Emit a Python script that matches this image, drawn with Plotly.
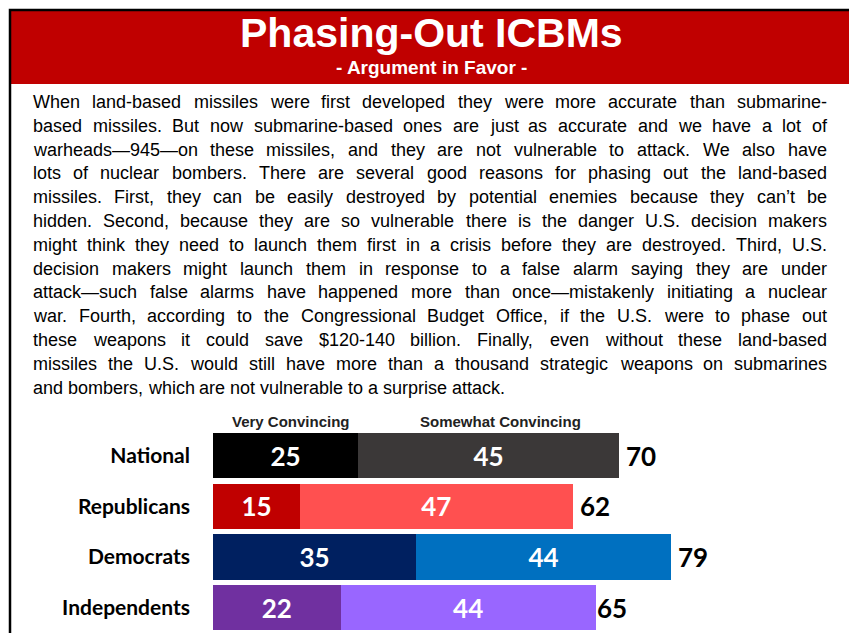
import plotly.graph_objects as go

# ---- data ----
groups = ["National", "Republicans", "Democrats", "Independents"]
very = [25, 15, 35, 22]
somewhat = [45, 47, 44, 44]
totals = [70, 62, 79, 65]
very_colors = ["#000000", "#c00000", "#002060", "#7030a0"]
some_colors = ["#3b3838", "#ff5050", "#0070c0", "#9966ff"]
series_names = ["Very Convincing", "Somewhat Convincing"]

title = "Phasing-Out ICBMs"
subtitle = "- Argument in Favor -"
body_lines = [
    "When land-based missiles were first developed they were more accurate than submarine-",
    "based missiles. But now submarine-based ones are just as accurate and we have a lot of",
    "warheads\u2014945\u2014on these missiles, and they are not vulnerable to attack. We also have",
    "lots of nuclear bombers. There are several good reasons for phasing out the land-based",
    "missiles. First, they can be easily destroyed by potential enemies because they can\u2019t be",
    "hidden. Second, because they are so vulnerable there is the danger U.S. decision makers",
    "might think they need to launch them first in a crisis before they are destroyed. Third, U.S.",
    "decision makers might launch them in response to a false alarm saying they are under",
    "attack\u2014such false alarms have happened more than once\u2014mistakenly initiating a nuclear",
    "war. Fourth, according to the Congressional Budget Office, if the U.S. were to phase out",
    "these weapons it could save $120-140 billion. Finally, even without these land-based",
    "missiles the U.S. would still have more than a thousand strategic weapons on submarines",
    "and bombers, which are not vulnerable to a surprise attack.",
]

W, H = 857, 633
OFF = 8  # page body margin offset of the rendered figure
BAR_FONT = "Lato, 'Liberation Sans', sans-serif"
ARIAL = "'Liberation Sans', Arial, sans-serif"


def px(x):
    return (x - OFF) / W


def py(y):
    return 1 - (y - OFF) / H


fig = go.Figure()
for vals, cols, name in [(very, very_colors, series_names[0]),
                         (somewhat, some_colors, series_names[1])]:
    fig.add_trace(go.Bar(
        y=groups, x=vals, orientation="h", name=name,
        marker=dict(color=cols, line=dict(width=0)),
        text=vals, textposition="inside", insidetextanchor="middle",
        textangle=0, constraintext="none",
        textfont=dict(family=BAR_FONT, size=26, color="white", weight="bold"),
        showlegend=False,
    ))

# totals
for g, t in zip(groups, totals):
    fig.add_annotation(x=t, y=g, xref="x", yref="y", text=f"<b>{t}</b>",
                       showarrow=False, xanchor="left", yanchor="middle", xshift=5,
                       font=dict(family=BAR_FONT, size=26, color="black"))

# column headers
for cx, name in [(291, series_names[0]), (500, series_names[1])]:
    fig.add_annotation(x=px(cx), y=py(421), xref="paper", yref="paper",
                       text=f"<b>{name}</b>", showarrow=False,
                       xanchor="center", yanchor="middle",
                       font=dict(family=ARIAL, size=15, color="#222"))

# header band
fig.add_shape(type="rect", xref="paper", yref="paper",
              x0=px(10), x1=px(852), y0=py(84), y1=py(10),
              fillcolor="#c00000", line=dict(width=0), layer="below")
# frame
fig.add_shape(type="path", xref="paper", yref="paper",
              path=f"M {px(10)} -0.05 L {px(10)} {py(10)} L {px(852)} {py(10)} L {px(852)} -0.05",
              line=dict(color="black", width=2.5))

fig.add_annotation(x=px(431), y=py(33), xref="paper", yref="paper",
                   text=f"<b>{title}</b>", showarrow=False,
                   xanchor="center", yanchor="middle",
                   font=dict(family=ARIAL, size=41, color="white"))
fig.add_annotation(x=px(431), y=py(68), xref="paper", yref="paper",
                   text=f"<b>{subtitle}</b>", showarrow=False,
                   xanchor="center", yanchor="middle",
                   font=dict(family=ARIAL, size=19, color="white"))

# ---- justified body text (Arial / Liberation Sans metrics, 1/1000 em) ----
WID = {}
for c, w in zip("abcdefghijklmnopqrstuvwxyz",
                [556, 556, 500, 556, 556, 278, 556, 556, 222, 222, 500, 222, 833,
                 556, 556, 556, 556, 333, 500, 278, 556, 500, 722, 500, 500, 500]):
    WID[c] = w
for c, w in zip("ABCDEFGHIJKLMNOPQRSTUVWXYZ",
                [667, 667, 722, 722, 667, 611, 778, 722, 278, 500, 667, 556, 833,
                 722, 778, 667, 778, 722, 667, 611, 722, 667, 944, 667, 667, 611]):
    WID[c] = w
for c in "0123456789$":
    WID[c] = 556
WID.update({" ": 278, ".": 278, ",": 278, "-": 333, "\u2014": 1000, "\u2019": 222})

FS = 18
LEFT, RIGHT = 32, 826


def width(word):
    return sum(WID.get(ch, 556) for ch in word) * FS / 1000


for i, line in enumerate(body_lines):
    words = line.split(" ")
    ws = [width(w) for w in words]
    last = i == len(body_lines) - 1
    if last or len(words) < 2:
        gap = WID[" "] * FS / 1000
    else:
        gap = (RIGHT - LEFT - sum(ws)) / (len(words) - 1)
    x = LEFT
    y = 102 + 23.8 * i
    for w, wd in zip(words, ws):
        fig.add_annotation(x=px(x - 1), y=py(y), xref="paper", yref="paper",
                           text=w, showarrow=False, xanchor="left", yanchor="middle",
                           font=dict(family=ARIAL, size=FS, color="black"))
        x += wd + gap

bar_top, pitch = 433, 50.7
top = bar_top - 2.8
bottom = top + 4 * pitch
fig.update_layout(
    width=W, height=H, margin=dict(l=0, r=0, t=0, b=0),
    paper_bgcolor="white", plot_bgcolor="white",
    barmode="stack", bargap=0.11,
    xaxis=dict(domain=[px(213), px(213) + 5.8 * 100 / W], range=[0, 100],
               visible=False, fixedrange=True),
    yaxis=dict(domain=[py(bottom), py(top)], range=[3.5, -0.5],
               type="category", showgrid=False, zeroline=False, showline=False,
               ticks="", ticklabelstandoff=22,
               tickfont=dict(family=BAR_FONT, size=21, color="black", weight="bold")),
)

fig.write_html("out.html")
